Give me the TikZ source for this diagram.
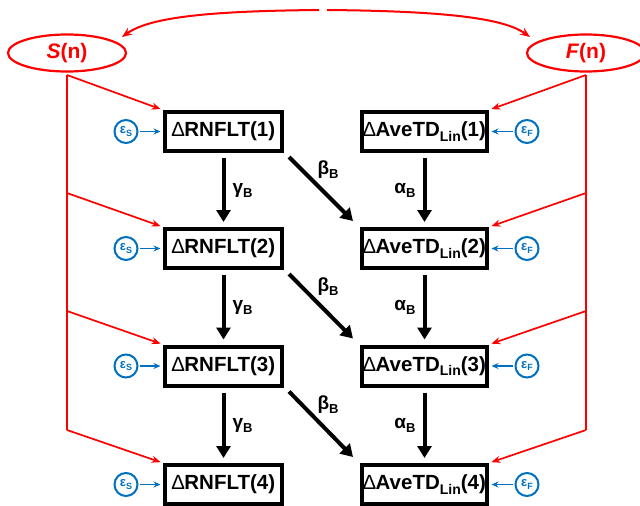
\documentclass[tikz,border=0pt]{standalone}
\usepackage{fontspec}
\setmainfont{Liberation Sans}
\usetikzlibrary{arrows.meta,shapes.geometric}
\definecolor{myred}{RGB}{255,0,0}
\definecolor{myblue}{RGB}{0,112,192}
\newcommand{\lin}{\raisebox{-4.5pt}{\fontsize{14}{14}\selectfont Lin}}
\newcommand{\sbB}[1]{#1\raisebox{-4pt}{\fontsize{13}{13}\selectfont B}}
\begin{document}
\begin{tikzpicture}[x=1pt,y=-1pt,
  box/.style={draw=black, line width=4pt, minimum height=39pt, inner sep=0pt,
    font=\bfseries\fontsize{20.5}{23}\selectfont},
  lbox/.style={box, minimum width=117pt},
  rbox/.style={box, minimum width=125pt},
  evar/.style={draw=myblue, line width=2pt, circle, minimum size=23pt, inner sep=0pt,
    text=myblue, font=\bfseries\fontsize{13}{13}\selectfont},
  lat/.style={draw=myred, line width=2.2pt, ellipse, minimum width=118pt, minimum height=37pt,
    inner sep=0pt, text=myred, font=\bfseries\fontsize{21}{23}\selectfont},
  redln/.style={draw=myred, line width=1.7pt},
  redarr/.style={redln, -{Stealth[length=9pt,width=7pt]}, shorten >=2.5pt},
  bluarr/.style={draw=myblue, line width=1.7pt, -{Stealth[length=7pt,width=6pt]}},
  blkarr/.style={draw=black, line width=4pt, -{Triangle[length=12pt,width=14pt]}},
  coef/.style={font=\bfseries\fontsize{19}{21}\selectfont, inner sep=0pt}
]
\useasboundingbox (0,0) rectangle (640,506);

% latent nodes
\node[lat] (S) at (67,53) {\textit{S}(n)};
\node[lat] (F) at (586,53) {\textit{F}(n)};

% top curved arrows
\coordinate (tl) at (319,10);
\coordinate (tr) at (327,10);
\coordinate (sa) at (122,37);
\coordinate (fa) at (530,37);
\draw[redln, line width=2pt, -{Stealth[length=10pt,width=8pt]}] (tl) .. controls (210,11) and (150,17) .. (sa);
\draw[redln, line width=2pt, -{Stealth[length=10pt,width=8pt]}] (tr) .. controls (436,11) and (502,17) .. (fa);

% boxes
\foreach \i/\y in {1/131.5,2/248.5,3/366,4/484.5}{
  \node[lbox] (L\i) at (223.5,\y) {\mdseries∆\bfseries RNFLT(\i)};
  \node[rbox] (R\i) at (424.5,\y) {\mdseries∆\bfseries AveTD\lin(\i)};
  \node[evar] (ES\i) at (126,\y) {ε\raisebox{-2.5pt}{\fontsize{9}{9}\selectfont S}};
  \node[evar] (EF\i) at (527,\y) {ε\raisebox{-2.5pt}{\fontsize{9}{9}\selectfont F}};
  \draw[bluarr, shorten <=1.5pt, shorten >=2.5pt] (ES\i) -- (L\i.west);
  \draw[bluarr, shorten <=1.5pt, shorten >=2.5pt] (EF\i) -- (R\i.east);
}

% red structure
\coordinate (sS) at (67,75);
\coordinate (sF) at (586,75);
\coordinate (sL2) at (67,193);
\coordinate (sL3) at (67,311);
\coordinate (sL4) at (67,430);
\coordinate (fR2) at (586,193);
\coordinate (fR3) at (586,311);
\coordinate (fR4) at (586,430);
\draw[redln] (sS) -- (sL4);
\draw[redln] (sF) -- (fR4);
\draw[redarr] (sS) -- (L1.north west);
\draw[redarr] (sL2) -- (L2.north west);
\draw[redarr] (sL3) -- (L3.north west);
\draw[redarr] (sL4) -- (L4.north west);
\draw[redarr] (sF) -- (R1.north east);
\draw[redarr] (fR2) -- (R2.north east);
\draw[redarr] (fR3) -- (R3.north east);
\draw[redarr] (fR4) -- (R4.north east);

% black paths
\foreach \i/\j in {1/2,2/3,3/4}{
  \draw[blkarr, shorten <=5pt, shorten >=5pt] (L\i.south) -- (L\j.north)
    node[coef, midway, anchor=west, xshift=7pt] {\sbB{γ}};
  \draw[blkarr, shorten <=5pt, shorten >=5pt] (R\i.south) -- (R\j.north)
    node[coef, midway, anchor=east, xshift=-7pt] {\sbB{α}};
  \draw[blkarr] ([shift={(5,4)}]L\i.south east) -- ([shift={(-7,-6)}]R\j.north west)
    node[coef, pos=0.4, anchor=south west, xshift=1pt, yshift=2pt] {\sbB{β}};
}
\end{tikzpicture}
\end{document}
